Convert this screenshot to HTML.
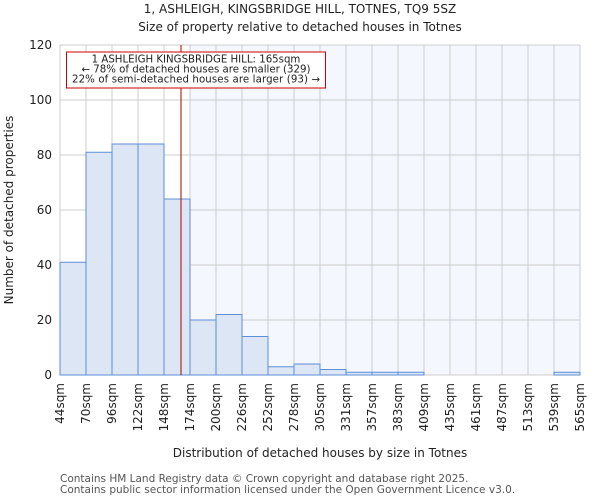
<!DOCTYPE html>
<html><head><meta charset="utf-8"><style>
body{margin:0;background:#fff;font-family:"DejaVu Sans","Liberation Sans",sans-serif}
</style></head><body>
<svg id="c" width="600" height="500" xmlns="http://www.w3.org/2000/svg" font-family="DejaVu Sans, Liberation Sans, sans-serif">
<text x="300" y="13" font-size="12" text-anchor="middle" fill="#222">1, ASHLEIGH, KINGSBRIDGE HILL, TOTNES, TQ9 5SZ</text>
<text x="300" y="31" font-size="12" text-anchor="middle" fill="#222">Size of property relative to detached houses in Totnes</text>
<g id="plot"></g>
<text x="320" y="457" font-size="12" text-anchor="middle" fill="#222">Distribution of detached houses by size in Totnes</text>
<text transform="translate(13,210) rotate(-90)" font-size="12" text-anchor="middle" fill="#222">Number of detached properties</text>
<text x="60" y="482" font-size="10.5" fill="#555">Contains HM Land Registry data © Crown copyright and database right 2025.</text>
<text x="60" y="493" font-size="10.5" fill="#555">Contains public sector information licensed under the Open Government Licence v3.0.</text>
</svg>
<script>
const categories=["44sqm","70sqm","96sqm","122sqm","148sqm","174sqm","200sqm","226sqm","252sqm","278sqm","305sqm","331sqm","357sqm","383sqm","409sqm","435sqm","461sqm","487sqm","513sqm","539sqm","565sqm"];
const counts=[41,81,84,84,64,20,22,14,3,4,2,1,1,1,0,0,0,0,0,1];
const yTicks=[0,20,40,60,80,100,120];
const binStart=44, binWidth=26, propertySize=165;
const X0=60,X1=580,Y0=375,Y1=45,YMAX=120;
const xs=v=>X0+(v-binStart)/binWidth*((X1-X0)/counts.length);
const xi=i=>X0+i*(X1-X0)/counts.length;
const ys=v=>Y0-v/YMAX*(Y0-Y1);
const NS="http://www.w3.org/2000/svg";
const g=document.getElementById('plot');
function mk(t,a){const e=document.createElementNS(NS,t);for(const k in a)e.setAttribute(k,a[k]);g.appendChild(e);return e;}
const shadeX=xi(Math.ceil((propertySize-binStart)/binWidth));
let r=mk('rect',{x:shadeX,y:Y1,width:X1-shadeX,height:Y0-Y1,fill:'#f4f7fe'});


for(let i=0;i<=counts.length;i++){let l=mk('line',{x1:xi(i),x2:xi(i),y1:Y1,y2:Y0,stroke:'#ccc','stroke-width':1});

}
yTicks.forEach(t=>{let l=mk('line',{x1:X0,x2:X1,y1:ys(t),y2:ys(t),stroke:'#ccc','stroke-width':1});


let tx=mk('text',{x:X0-8,y:ys(t)+4,'font-size':12,'text-anchor':'end',fill:'#222'});tx.textContent=t;

});
counts.forEach((v,i)=>{if(v<=0)return;let b=mk('rect',{x:xi(i),y:ys(v),width:xi(i+1)-xi(i),height:Y0-ys(v),fill:'#dce6f4',stroke:'#5b8fd6','stroke-width':1});

});
categories.forEach((c,i)=>{let x=xi(i)+4;let tx=mk('text',{transform:`translate(${x},${Y0+8}) rotate(-90)`,'font-size':12,'text-anchor':'end',fill:'#222'});tx.textContent=c;

});
let rl=mk('line',{x1:xs(propertySize),x2:xs(propertySize),y1:Y1,y2:Y0,stroke:'#a00','stroke-width':1});


let box=mk('rect',{x:66.5,y:52,width:259,height:36,fill:'#fff',stroke:'#c00','stroke-width':1});


["1 ASHLEIGH KINGSBRIDGE HILL: 165sqm","← 78% of detached houses are smaller (329)","22% of semi-detached houses are larger (93) →"].forEach((s,i)=>{let t=mk('text',{x:196,y:62.5+i*10,'font-size':10.2,'text-anchor':'middle',fill:'#222','textLength':i==2?248:null});if(i!=2)t.removeAttribute('textLength');t.textContent=s;

});
</script>
</body></html>
